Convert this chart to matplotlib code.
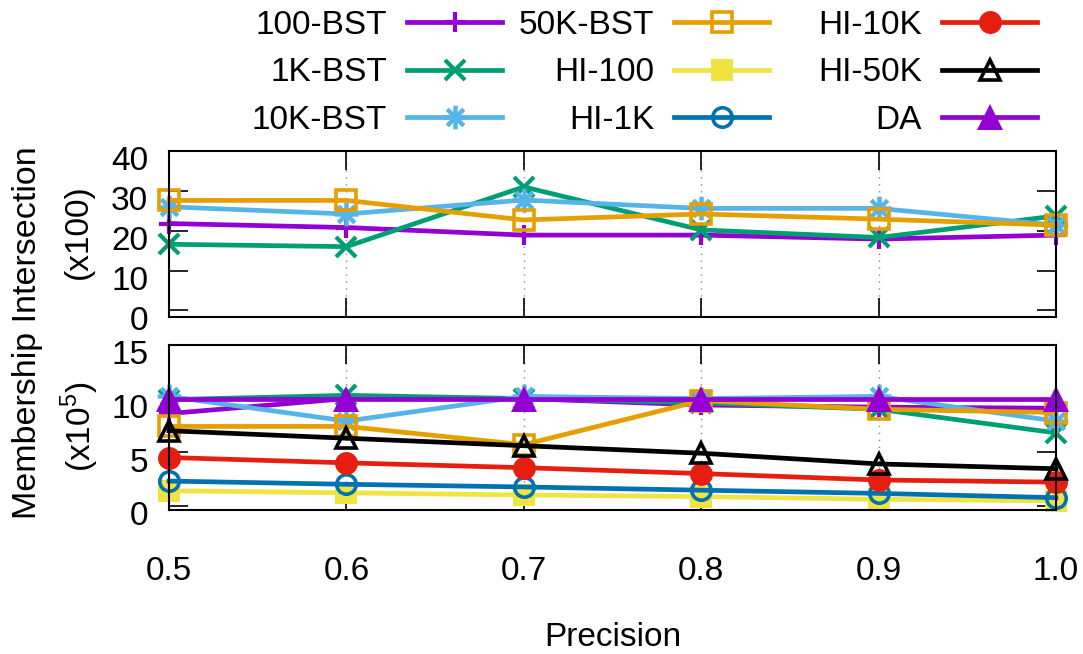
import matplotlib
matplotlib.use("Agg")
import matplotlib.pyplot as plt
from matplotlib.path import Path
from matplotlib.transforms import ScaledTranslation

plt.rcParams["font.family"] = ["Liberation Sans", "DejaVu Sans"]
plt.rcParams["mathtext.fontset"] = "custom"
plt.rcParams["mathtext.rm"] = "Liberation Sans"
plt.rcParams["font.size"] = 24

precision = [0.5, 0.6, 0.7, 0.8, 0.9, 1.0]

# upper panel, values in units of 100
bst100_top = [21.8, 20.8, 18.9, 18.9, 17.9, 18.9]
bst1k_top = [16.6, 16.0, 31.0, 20.2, 18.3, 23.7]
bst10k_top = [26.0, 24.2, 27.7, 25.6, 25.6, 21.4]
bst50k_top = [27.6, 27.6, 22.7, 24.2, 22.9, 21.4]

# lower panel, values in units of 10^5
bst100_bot = [8.6, 10.0, 10.0, 9.4, 9.2, 9.1]
bst1k_bot = [9.9, 10.3, 10.0, 9.6, 9.0, 6.8]
bst10k_bot = [10.2, 7.9, 10.2, 10.0, 10.2, 7.9]
bst50k_bot = [7.4, 7.4, 5.7, 9.8, 9.0, 8.7]
hi100 = [1.4, 1.2, 1.0, 0.85, 0.6, 0.45]
hi1k = [2.3, 2.0, 1.75, 1.45, 1.15, 0.75]
hi10k = [4.5, 4.0, 3.55, 3.0, 2.4, 2.2]
hi50k = [7.0, 6.3, 5.6, 4.9, 3.9, 3.45]
da = [10.0, 10.0, 10.0, 10.0, 10.0, 10.0]

# gnuplot style star: plus and cross together
star = Path(
    [(-1, 0), (1, 0), (0, -1), (0, 1), (-0.7, -0.7), (0.7, 0.7), (-0.7, 0.7), (0.7, -0.7)],
    [Path.MOVETO, Path.LINETO] * 4,
)

styles = {
    "100-BST": dict(color="#9400D3", marker="+", ms=15, mew=3),
    "1K-BST": dict(color="#009E73", marker="x", ms=14, mew=3),
    "10K-BST": dict(color="#56B4E9", marker=star, ms=17, mew=3.2),
    "50K-BST": dict(color="#E69F00", marker="s", ms=14, mew=2.6, mfc="none"),
    "HI-100": dict(color="#F0E442", marker="s", ms=16, mew=0),
    "HI-1K": dict(color="#0072B2", marker="o", ms=14, mew=2.6, mfc="none"),
    "HI-10K": dict(color="#E51E10", marker="o", ms=16.5, mew=0),
    "HI-50K": dict(color="black", marker="^", ms=15, mew=2.6, mfc="none"),
    "DA": dict(color="#9400D3", marker="^", ms=19, mew=0),
}

fig = plt.figure(figsize=(10.83, 6.54), dpi=100)
W, H = 1083, 654
ax_top = fig.add_axes([169 / W, 1 - 317 / H, 887 / W, 166 / H])
ax_bot = fig.add_axes([169 / W, 1 - 510 / H, 887 / W, 165 / H])

lw = 3.4
for name, y in [("100-BST", bst100_top), ("1K-BST", bst1k_top),
                ("10K-BST", bst10k_top), ("50K-BST", bst50k_top)]:
    st = styles[name]
    ax_top.plot(precision, y, lw=lw, label=name, clip_on=False, mec=st["color"], **st)

handles = []
for name, y in [("100-BST", bst100_bot), ("1K-BST", bst1k_bot), ("10K-BST", bst10k_bot),
                ("50K-BST", bst50k_bot), ("HI-100", hi100), ("HI-1K", hi1k),
                ("HI-10K", hi10k), ("HI-50K", hi50k), ("DA", da)]:
    st = styles[name]
    line, = ax_bot.plot(precision, y, lw=lw, label=name, clip_on=False, mec=st["color"], **st)
    handles.append(line)

ax_top.set_ylim(-1.65, 40)
ax_top.set_yticks([0, 10, 20, 30, 40])
ax_bot.set_ylim(-0.4, 15)
ax_bot.set_yticks([0, 5, 10, 15])

for ax in (ax_top, ax_bot):
    ax.set_xlim(0.5, 1.0)
    ax.set_xticks(precision)
    ax.xaxis.grid(True, linestyle=(0, (1, 4)), color="#888888", linewidth=1)
    ax.tick_params(direction="in", length=14, width=1.2, top=True, right=True,
                   labelsize=24)
    ax.tick_params(axis="y", pad=15)
    ax.tick_params(axis="x", pad=33)
    for s in ax.spines.values():
        s.set_linewidth(1.5)
    # gnuplot puts the y tick labels a little below the tick
    offset = ScaledTranslation(0, -7.5 / 100, fig.dpi_scale_trans)
    for t in ax.yaxis.get_major_ticks():
        t.label1.set_transform(t.label1.get_transform() + offset)

ax_top.set_xticklabels([])
ax_bot.set_xticklabels(["0.5", "0.6", "0.7", "0.8", "0.9", "1.0"])

fig.text(612.5 / W, 1 - 637 / H, "Precision", ha="center", va="center", fontsize=24)
fig.text(28 / W, 1 - 333 / H, "Membership Intersection", rotation=90,
         ha="center", va="center", fontsize=24.5)
fig.text(78 / W, 1 - 232 / H, "(x100)", rotation=90, ha="center", va="center", fontsize=24)
fig.text(80 / W, 1 - 427 / H, r"(x10$^{5}$)", rotation=90, ha="center", va="center", fontsize=24)

# three right aligned legend columns, like gnuplot's key
for i, right in enumerate([502, 769, 1037]):
    fig.legend(handles=handles[3 * i:3 * i + 3], loc="upper right",
               bbox_to_anchor=(right / W, 1 - 10 / H), bbox_transform=fig.transFigure,
               frameon=False, markerfirst=False, handlelength=2.85,
               handletextpad=0.6, labelspacing=0.49, borderpad=0,
               borderaxespad=0, fontsize=24)

fig.savefig("out.png", dpi=100)
